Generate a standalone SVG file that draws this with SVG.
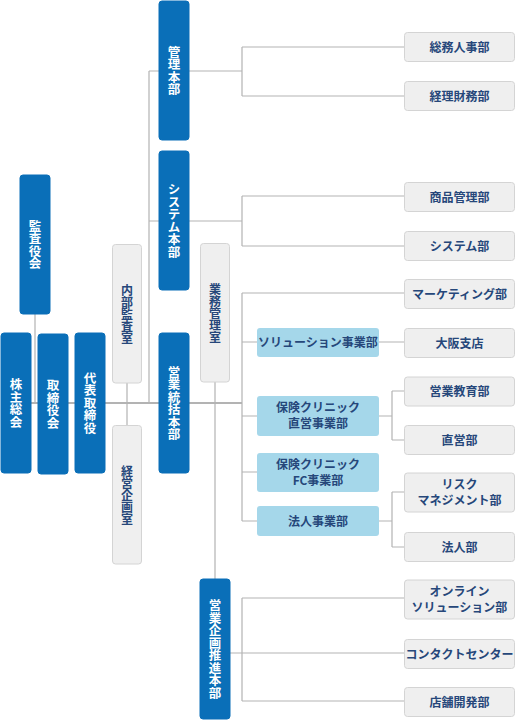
<svg xmlns="http://www.w3.org/2000/svg" width="520" height="720" viewBox="0 0 520 720">
<style>
.bg{fill:#ffffff}
.lines path{fill:none;stroke:#b3b3b3;stroke-width:1.2}
.main{stroke-width:1.8 !important}
.blue rect{fill:#0a6fb8;stroke:#0a6fb8}
.light rect{fill:#a5d7ea}
.gray rect{fill:#efefef;stroke:#d4d4d4;stroke-width:1}
text{font-family:"Noto Sans CJK JP","Noto Sans",sans-serif;font-size:12px;font-weight:bold;text-anchor:middle}
.blue text{fill:#ffffff;font-size:12.5px}
.light text,.gray text{fill:#26477a}
.v{writing-mode:vertical-rl;glyph-orientation-vertical:0;dominant-baseline:central}
</style>
<rect class="bg" x="0" y="0" width="520" height="720"/>
<g class="lines">
<path class="main" d="M1 403H242"/>
<path d="M35 314V403"/>
<path d="M149 71V403M149 71H159M149 221H159"/>
<path d="M189 71H242M242 47V96M242 47H404M242 96H404"/>
<path d="M189 221H242M242 196V246M242 196H404M242 246H404"/>
<path d="M127 383V425"/>
<path d="M215 382V579"/>
<path d="M242 293V521M242 293H404M242 342H257M379 342H404M242 416H257M242 472H257M242 521H257"/>
<path d="M379 416H392M392 391V440M392 391H404M392 440H404"/>
<path d="M379 521H392M392 492V547M392 492H404M392 547H404"/>
<path d="M230 653H242M242 598V701M242 598H404M242 653H404M242 701H404"/>
</g>
<g id="kansayakukai" class="blue"><rect x="20" y="175" width="30" height="139" rx="3"/><text class="v" x="35" y="244.5">監査役会</text></g>
<g id="kabunushisoukai" class="blue"><rect x="1" y="333" width="30" height="140" rx="3"/><text class="v" x="16" y="403">株主総会</text></g>
<g id="torishimariyakukai" class="blue"><rect x="38" y="334" width="30" height="140" rx="3"/><text class="v" x="53" y="404">取締役会</text></g>
<g id="daihyo" class="blue"><rect x="75" y="333" width="30" height="140" rx="3"/><text class="v" x="90" y="403">代表取締役</text></g>
<g id="naibukansa" class="gray"><rect x="112.5" y="244.5" width="29" height="138.5" rx="3"/><text class="v" x="127" y="314">内部監査室</text></g>
<g id="keieikikaku" class="gray"><rect x="112.5" y="425.5" width="29" height="138.5" rx="3"/><text class="v" x="127" y="495">経営企画室</text></g>
<g id="kanri" class="blue"><rect x="159" y="1" width="30" height="139" rx="3"/><text class="v" x="174" y="70.5">管理本部</text></g>
<g id="system" class="blue"><rect x="159" y="151" width="30" height="139" rx="3"/><text class="v" x="174" y="220.5">システム本部</text></g>
<g id="eigyotoukatsu" class="blue"><rect x="159" y="333" width="30" height="140" rx="3"/><text class="v" x="174" y="403">営業統括本部</text></g>
<g id="gyomukanri" class="gray"><rect x="200.5" y="243.5" width="29" height="138.5" rx="3"/><text class="v" x="215" y="313">業務管理室</text></g>
<g id="eigyokikaku" class="blue"><rect x="200" y="579" width="30" height="140" rx="3"/><text class="v" x="215" y="649">営業企画推進本部</text></g>
<g id="somujinji" class="gray"><rect x="404.5" y="32.5" width="110" height="29" rx="3"/><text x="459.5" y="51.5">総務人事部</text></g>
<g id="keirizaimu" class="gray"><rect x="404.5" y="81.5" width="110" height="29" rx="3"/><text x="459.5" y="100.5">経理財務部</text></g>
<g id="shohinkanri" class="gray"><rect x="404.5" y="182.5" width="110" height="29" rx="3"/><text x="459.5" y="201.5">商品管理部</text></g>
<g id="systembu" class="gray"><rect x="404.5" y="231.5" width="110" height="29" rx="3"/><text x="459.5" y="250.5">システム部</text></g>
<g id="marketing" class="gray"><rect x="404.5" y="279.5" width="110" height="29" rx="3"/><text x="459.5" y="298.5">マーケティング部</text></g>
<g id="osaka" class="gray"><rect x="404.5" y="328.5" width="110" height="29" rx="3"/><text x="459.5" y="347.5">大阪支店</text></g>
<g id="eigyokyoiku" class="gray"><rect x="404.5" y="377" width="110" height="29" rx="3"/><text x="459.5" y="396">営業教育部</text></g>
<g id="chokuei" class="gray"><rect x="404.5" y="425.5" width="110" height="29" rx="3"/><text x="459.5" y="444.5">直営部</text></g>
<g id="risk" class="gray"><rect x="404.5" y="473" width="110" height="39" rx="3"/><text x="459.5" y="488.5">リスク</text><text x="459.5" y="504.5">マネジメント部</text></g>
<g id="hojinbu" class="gray"><rect x="404.5" y="532.5" width="110" height="29" rx="3"/><text x="459.5" y="551.5">法人部</text></g>
<g id="online" class="gray"><rect x="404.5" y="580" width="110" height="39" rx="3"/><text x="459.5" y="595.5">オンライン</text><text x="459.5" y="611.5">ソリューション部</text></g>
<g id="contact" class="gray"><rect x="404.5" y="639.5" width="110" height="29" rx="3"/><text x="459.5" y="658.5">コンタクトセンター</text></g>
<g id="tenpo" class="gray"><rect x="404.5" y="687.5" width="110" height="29" rx="3"/><text x="459.5" y="706.5">店舗開発部</text></g>
<g id="solution" class="light"><rect x="257" y="328" width="122" height="29" rx="3"/><text x="318" y="347">ソリューション事業部</text></g>
<g id="clinicchokuei" class="light"><rect x="257" y="396" width="122" height="40" rx="3"/><text x="318" y="412">保険クリニック</text><text x="318" y="428">直営事業部</text></g>
<g id="clinicfc" class="light"><rect x="257" y="453" width="122" height="39" rx="3"/><text x="318" y="468.5">保険クリニック</text><text x="318" y="484.5">FC事業部</text></g>
<g id="hojinjigyo" class="light"><rect x="257" y="506" width="122" height="30" rx="3"/><text x="318" y="525.5">法人事業部</text></g>
</svg>
